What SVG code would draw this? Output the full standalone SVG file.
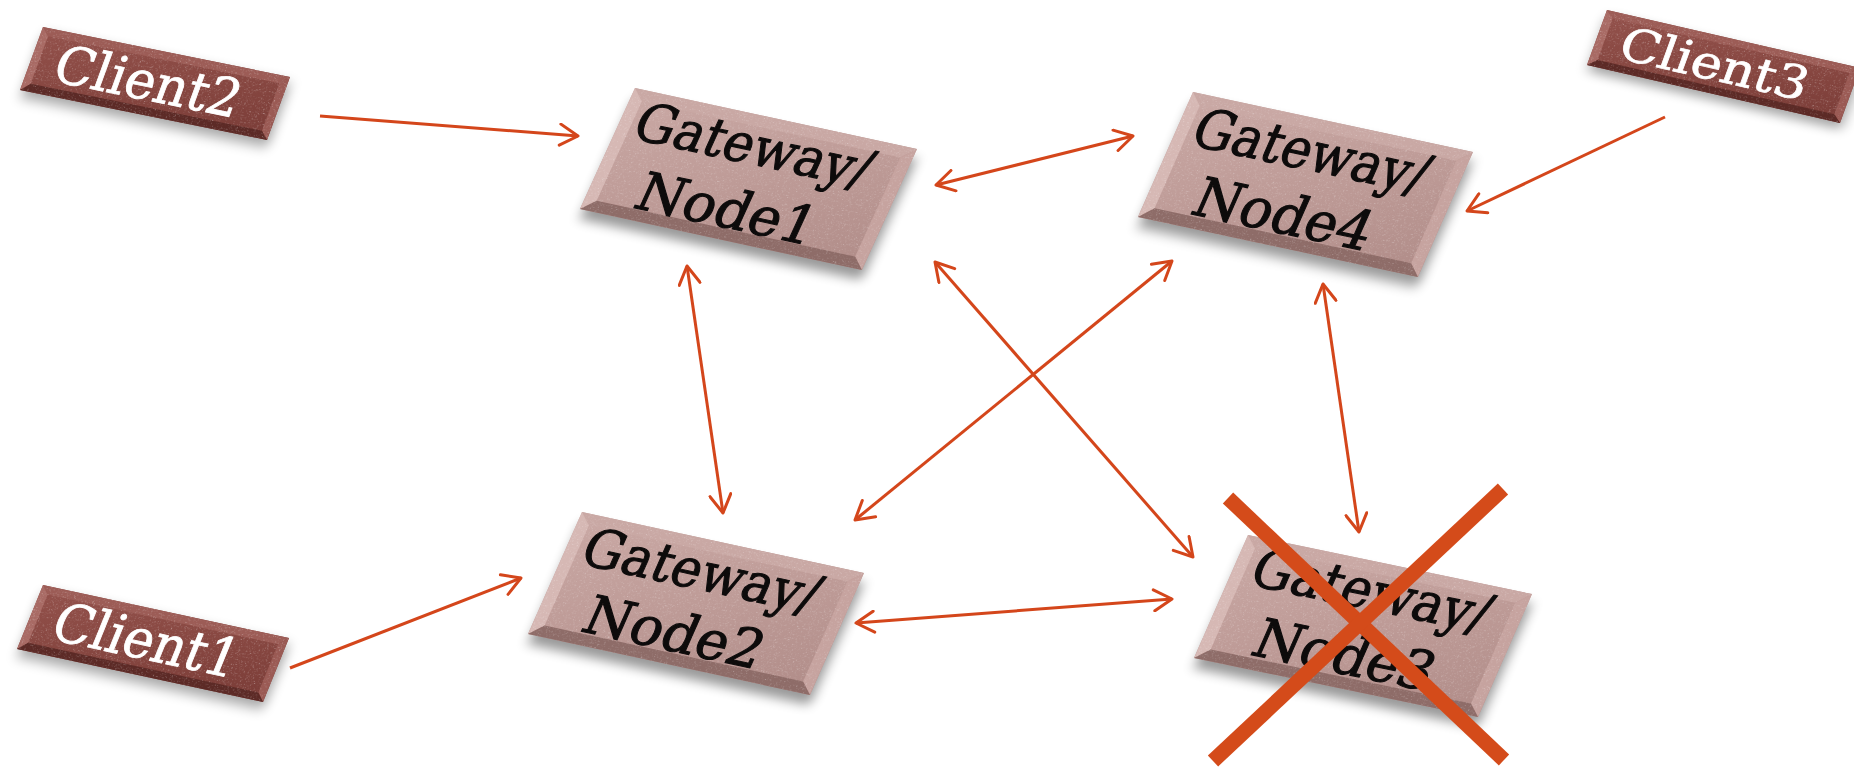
<svg xmlns="http://www.w3.org/2000/svg" xmlns:xlink="http://www.w3.org/1999/xlink" width="1854" height="769" viewBox="0 0 1854 769">
  <style>
    .conn { fill: none; stroke: #D4461B; stroke-width: 3; stroke-linecap: butt; }
    .gw { font-family: "DejaVu Serif", "Liberation Serif", serif; font-size: 55px; fill: #0d0b0b; stroke: #0d0b0b; stroke-width: 1.1; }
    .cl { font-family: "DejaVu Serif", "Liberation Serif", serif; font-size: 52px; fill: #ffffff; stroke: #ffffff; stroke-width: 0.8; }
    .strike { stroke: #D44B1A; stroke-width: 15; stroke-linecap: butt; }
  </style>
  <defs>
    <filter id="soft" x="-20%" y="-30%" width="140%" height="170%">
      <feGaussianBlur stdDeviation="6"/>
    </filter>
    <filter id="specks" filterUnits="objectBoundingBox" x="0" y="0" width="1" height="1">
      <feTurbulence type="fractalNoise" baseFrequency="0.85" numOctaves="2" seed="7" result="n"/>
      <feColorMatrix in="n" type="matrix" values="0 0 0 0 1  0 0 0 0 1  0 0 0 0 1  4 0 0 0 -2.3"/>
      <feComposite in2="SourceAlpha" operator="in"/>
    </filter>
    <linearGradient id="nodeFace" x1="0" y1="0" x2="1" y2="1">
      <stop offset="0" stop-color="#CAA9A5"/>
      <stop offset="0.5" stop-color="#BE9B97"/>
      <stop offset="1" stop-color="#B08C88"/>
    </linearGradient>
    <linearGradient id="clientFace" x1="0" y1="0" x2="1" y2="1">
      <stop offset="0" stop-color="#94524C"/>
      <stop offset="0.55" stop-color="#864640"/>
      <stop offset="1" stop-color="#7A3C37"/>
    </linearGradient>
    <marker id="arrow" viewBox="0 0 22 24" refX="20" refY="12" markerWidth="22" markerHeight="24" markerUnits="userSpaceOnUse" orient="auto-start-reverse">
      <path d="M2,1.5 L20,12 L2,22.5" fill="none" stroke="#D4461B" stroke-width="3" stroke-linecap="round" stroke-linejoin="round"/>
    </marker>

    <!-- bevelled gateway tile, local 288 x 133 -->
    <g id="nodeTile">
      <rect x="4" y="10" width="288" height="133" fill="#000" opacity="0.4" filter="url(#soft)"/>
      <rect x="0" y="0" width="288" height="133" fill="url(#nodeFace)"/>
      <polygon points="0,0 288,0 276,12 12,12" fill="#C9A8A4"/>
      <polygon points="0,0 12,12 12,121 0,133" fill="#D6B8B4"/>
      <polygon points="288,0 288,133 276,121 276,12" fill="#C6A39F"/>
      <polygon points="0,133 12,121 276,121 288,133" fill="#8E6C68"/>
      <rect x="0" y="0" width="288" height="133" fill="#fff" opacity="0.3" filter="url(#specks)"/>
    </g>

    <!-- bevelled client tile, local 250 x 65 -->
    <g id="clientTile">
      <rect x="3" y="7" width="250" height="65" fill="#000" opacity="0.35" filter="url(#soft)"/>
      <rect x="0" y="0" width="250" height="65" fill="url(#clientFace)"/>
      <polygon points="0,0 250,0 242,8 8,8" fill="#9C5C56"/>
      <polygon points="0,0 8,8 8,57 0,65" fill="#A86A64"/>
      <polygon points="250,0 250,65 242,57 242,8" fill="#9A5A54"/>
      <polygon points="0,65 8,57 242,57 250,65" fill="#5C2A26"/>
      <rect x="0" y="0" width="250" height="65" fill="#fff" opacity="0.35" filter="url(#specks)"/>
    </g>
  </defs>

  <rect width="1854" height="769" fill="#ffffff"/>

  <!-- clients -->
  <g id="client2" transform="matrix(0.988,0.2,-0.354,0.969,43,27)">
    <use xlink:href="#clientTile"/>
    <text class="cl" x="118" y="50" text-anchor="middle" textLength="186" lengthAdjust="spacingAndGlyphs">Client2</text>
  </g>
  <g id="client1" transform="matrix(0.984,0.212,-0.4,0.985,43,585)">
    <use xlink:href="#clientTile"/>
    <text class="cl" x="118" y="49" text-anchor="middle" textLength="186" lengthAdjust="spacingAndGlyphs">Client1</text>
  </g>
  <g id="client3" transform="matrix(1.012,0.232,-0.308,0.846,1607,10)">
    <use xlink:href="#clientTile"/>
    <text class="cl" x="116" y="50" text-anchor="middle" textLength="184" lengthAdjust="spacingAndGlyphs">Client3</text>
  </g>

  <!-- gateway nodes -->
  <g id="node1" transform="matrix(0.979,0.212,-0.414,0.910,635,88)">
    <use xlink:href="#nodeTile"/>
    <text class="gw" x="16" y="51" textLength="238" lengthAdjust="spacingAndGlyphs">Gateway/</text>
    <text class="gw" x="47" y="120" textLength="180" lengthAdjust="spacingAndGlyphs">Node1</text>
  </g>
  <g id="node4" transform="matrix(0.972,0.208,-0.414,0.940,1193,92)">
    <use xlink:href="#nodeTile"/>
    <text class="gw" x="17" y="52" textLength="238" lengthAdjust="spacingAndGlyphs">Gateway/</text>
    <text class="gw" x="46" y="119" textLength="180" lengthAdjust="spacingAndGlyphs">Node4</text>
  </g>
  <g id="node2" transform="matrix(0.979,0.212,-0.406,0.917,582,512)">
    <use xlink:href="#nodeTile"/>
    <text class="gw" x="17" y="52" textLength="238" lengthAdjust="spacingAndGlyphs">Gateway/</text>
    <text class="gw" x="46" y="119" textLength="180" lengthAdjust="spacingAndGlyphs">Node2</text>
  </g>
  <g id="node3" transform="matrix(0.986,0.205,-0.406,0.925,1248,535)">
    <use xlink:href="#nodeTile"/>
    <text class="gw" x="19" y="49" textLength="238" lengthAdjust="spacingAndGlyphs">Gateway/</text>
    <text class="gw" x="49" y="118" textLength="180" lengthAdjust="spacingAndGlyphs">Node3</text>
  </g>

  <!-- links -->
  <g id="connectors">
    <line class="conn" x1="320" y1="116" x2="578" y2="136" marker-end="url(#arrow)"/>
    <line class="conn" x1="936" y1="185" x2="1133" y2="136" marker-start="url(#arrow)" marker-end="url(#arrow)"/>
    <line class="conn" x1="1665" y1="117" x2="1467" y2="211" marker-end="url(#arrow)"/>
    <line class="conn" x1="687" y1="266" x2="723" y2="513" marker-start="url(#arrow)" marker-end="url(#arrow)"/>
    <line class="conn" x1="935" y1="262" x2="1193" y2="557" marker-start="url(#arrow)" marker-end="url(#arrow)"/>
    <line class="conn" x1="1172" y1="261" x2="855" y2="520" marker-start="url(#arrow)" marker-end="url(#arrow)"/>
    <line class="conn" x1="1323" y1="284" x2="1359" y2="532" marker-start="url(#arrow)" marker-end="url(#arrow)"/>
    <line class="conn" x1="290" y1="668" x2="521" y2="578" marker-end="url(#arrow)"/>
    <line class="conn" x1="856" y1="623" x2="1172" y2="599" marker-start="url(#arrow)" marker-end="url(#arrow)"/>
  </g>

  <!-- failed node cross -->
  <g id="node3-down">
    <line class="strike" x1="1228" y1="498" x2="1504" y2="760"/>
    <line class="strike" x1="1503" y1="489" x2="1213" y2="761"/>
  </g>
</svg>
